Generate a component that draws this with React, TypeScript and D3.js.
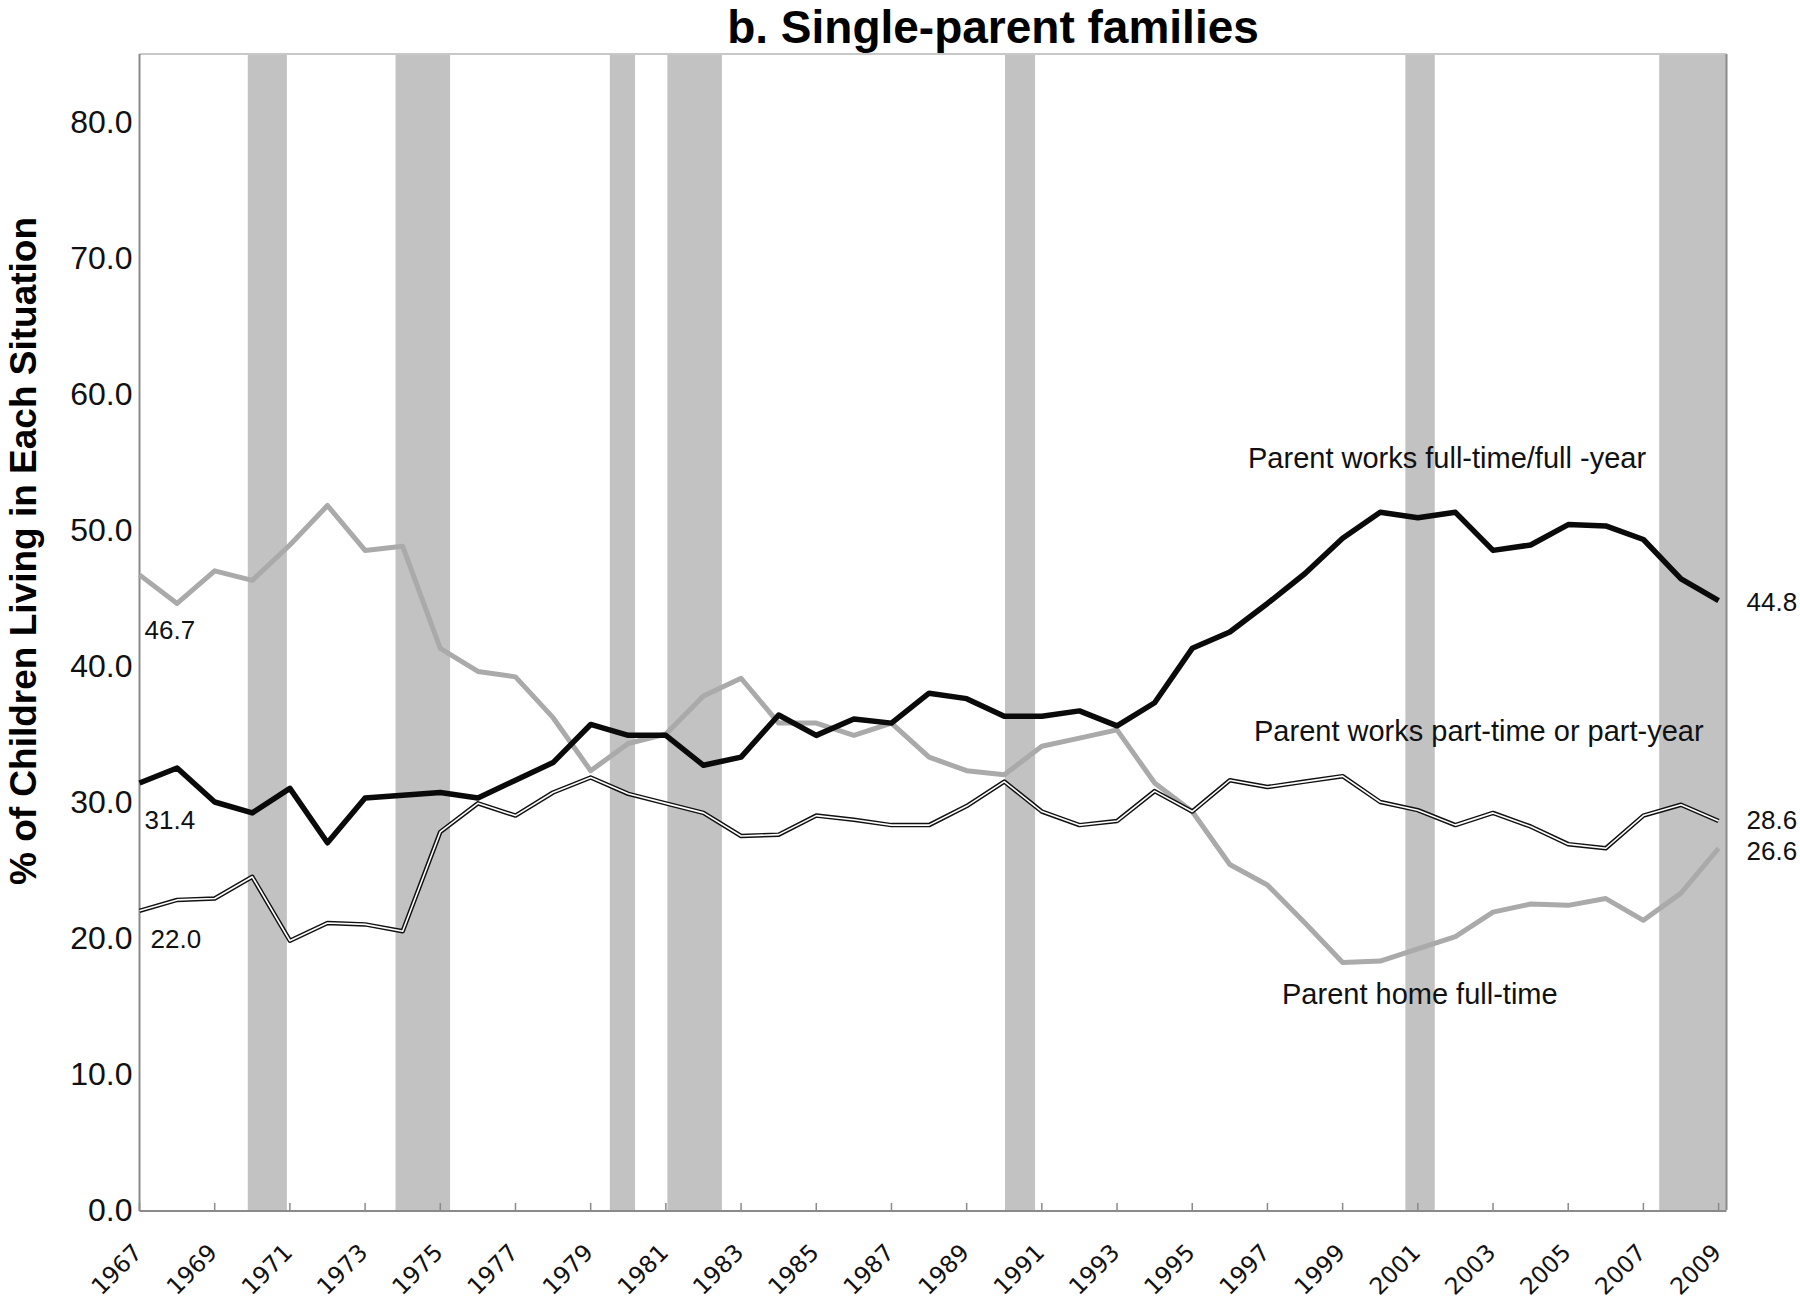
import React from 'react';
import * as d3 from 'd3';

const years = [
  1967, 1968, 1969, 1970, 1971, 1972, 1973, 1974, 1975, 1976, 1977, 1978, 1979, 1980, 1981,
  1982, 1983, 1984, 1985, 1986, 1987, 1988, 1989, 1990, 1991, 1992, 1993, 1994, 1995, 1996,
  1997, 1998, 1999, 2000, 2001, 2002, 2003, 2004, 2005, 2006, 2007, 2008, 2009,
];

const fullTime = [
  31.4, 32.5, 30.0, 29.2, 31.0, 27.0, 30.3, 30.5, 30.7, 30.3, 31.6, 32.9, 35.7, 34.9, 34.9,
  32.7, 33.3, 36.4, 34.9, 36.1, 35.8, 38.0, 37.6, 36.3, 36.3, 36.7, 35.6, 37.3, 41.3, 42.5,
  44.6, 46.8, 49.4, 51.3, 50.9, 51.3, 48.5, 48.9, 50.4, 50.3, 49.3, 46.4, 44.8,
];

const partTime = [
  22.0, 22.8, 22.9, 24.5, 19.8, 21.1, 21.0, 20.5, 27.8, 29.9, 29.0, 30.7, 31.8, 30.6, 29.9,
  29.2, 27.5, 27.6, 29.0, 28.7, 28.3, 28.3, 29.7, 31.5, 29.3, 28.3, 28.6, 30.8, 29.3, 31.6,
  31.1, 31.5, 31.9, 30.0, 29.4, 28.3, 29.2, 28.2, 26.9, 26.6, 29.0, 29.8, 28.6,
];

const homeFullTime = [
  46.7, 44.6, 47.0, 46.3, 48.9, 51.8, 48.5, 48.8, 41.3, 39.6, 39.2, 36.2, 32.3, 34.3, 35.0,
  37.8, 39.1, 35.8, 35.8, 34.9, 35.8, 33.3, 32.3, 32.0, 34.1, 34.7, 35.3, 31.4, 29.3, 25.4,
  23.9, 21.1, 18.2, 18.3, 19.2, 20.1, 21.9, 22.5, 22.4, 22.9, 21.3, 23.3, 26.6,
];

// recession bands (in year units)
const bandStart = [1969.88, 1973.81, 1979.51, 1981.04, 1990.02, 2000.67, 2007.42];
const bandEnd = [1970.92, 1975.26, 1980.18, 1982.49, 1990.82, 2001.45, 2009.21];

const yTicks = [0, 10, 20, 30, 40, 50, 60, 70, 80];
const xTicks = [
  1967, 1969, 1971, 1973, 1975, 1977, 1979, 1981, 1983, 1985, 1987, 1989, 1991, 1993, 1995,
  1997, 1999, 2001, 2003, 2005, 2007, 2009,
];

const title = 'b. Single-parent families';
const yTitle = '% of Children Living in Each Situation';
const seriesLabels = [
  'Parent works full-time/full -year',
  'Parent works part-time or part-year',
  'Parent home full-time',
];

const W = 1800;
const H = 1302;
const L = 139.5;
const R = 1726.5;
const T = 54;
const B = 1210;

export default function App() {
  const x = d3.scaleLinear().domain([1967, 2009.21]).range([L, R]);
  const y = d3.scaleLinear().domain([0, 85]).range([B, T]);

  const line = d3
    .line<number>()
    .x((_, i) => x(years[i]))
    .y((d) => y(d));

  const sans = 'Liberation Sans, Arial, Helvetica, sans-serif';
  const last = years.length - 1;

  return (
    <svg
      width={W}
      height={H}
      style={{ position: 'absolute', left: 0, top: 0, background: '#fff' }}
      fontFamily={sans}
    >
      <rect x={0} y={0} width={W} height={H} fill="#fff" />
      {/* recession bands */}
      {bandStart.map((s, i) => (
        <rect
          key={i}
          x={x(s)}
          y={y(85)}
          width={x(bandEnd[i]) - x(s)}
          height={y(0) - y(85)}
          fill="#c2c2c2"
        />
      ))}
      {/* frame */}
      <line x1={L} x2={R} y1={T} y2={T} stroke="#c8c8c8" strokeWidth={2} />
      <line x1={R} x2={R} y1={T} y2={B} stroke="#8a8a8a" strokeWidth={2} />
      <line x1={L} x2={L} y1={T} y2={B + 1} stroke="#8a8a8a" strokeWidth={2} />
      <line x1={L} x2={R} y1={B + 1} y2={B + 1} stroke="#8a8a8a" strokeWidth={2} />
      {xTicks.map((t) => (
        <line key={t} x1={x(t)} x2={x(t)} y1={B + 1} y2={B - 7} stroke="#8a8a8a" strokeWidth={1.5} />
      ))}
      {/* y tick labels */}
      {yTicks.map((t) => (
        <text key={t} x={L - 7} y={y(t) + 11} textAnchor="end" fontSize={32} fill="#111">
          {d3.format('.1f')(t)}
        </text>
      ))}
      {/* x tick labels */}
      {xTicks.map((t) => (
        <text
          key={t}
          transform={`translate(${x(t) + 4},${B + 44}) rotate(-45)`}
          textAnchor="end"
          fontSize={23.5}
          fontFamily="DejaVu Sans, Verdana, sans-serif"
          fill="#111"
        >
          {t}
        </text>
      ))}
      {/* series */}
      <path d={line(homeFullTime) || ''} fill="none" stroke="#aaaaaa" strokeWidth={5} strokeLinejoin="round" />
      <path d={line(partTime) || ''} fill="none" stroke="#111" strokeWidth={4.5} strokeLinejoin="round" />
      <path d={line(partTime) || ''} fill="none" stroke="#fff" strokeWidth={1.6} strokeLinejoin="round" />
      <path d={line(fullTime) || ''} fill="none" stroke="#0a0a0a" strokeWidth={5.5} strokeLinejoin="round" />
      {/* start value labels */}
      <text x={x(years[0]) + 5} y={y(homeFullTime[0]) + 64} fontSize={26} fill="#111">
        {homeFullTime[0].toFixed(1)}
      </text>
      <text x={x(years[0]) + 5} y={y(fullTime[0]) + 46} fontSize={26} fill="#111">
        {fullTime[0].toFixed(1)}
      </text>
      <text x={x(years[0]) + 11} y={y(partTime[0]) + 37} fontSize={26} fill="#111">
        {partTime[0].toFixed(1)}
      </text>
      {/* end value labels */}
      <text x={x(years[last]) + 28} y={y(fullTime[last]) + 10} fontSize={26} fill="#111">
        {fullTime[last].toFixed(1)}
      </text>
      <text x={x(years[last]) + 28} y={y(partTime[last]) + 8} fontSize={26} fill="#111">
        {partTime[last].toFixed(1)}
      </text>
      <text x={x(years[last]) + 28} y={y(homeFullTime[last]) + 12} fontSize={26} fill="#111">
        {homeFullTime[last].toFixed(1)}
      </text>
      {/* series labels */}
      <text x={1248} y={468} fontSize={29} fill="#111">{seriesLabels[0]}</text>
      <text x={1254} y={741} fontSize={29} fill="#111">{seriesLabels[1]}</text>
      <text x={1282} y={1004} fontSize={29} fill="#111">{seriesLabels[2]}</text>
      {/* titles */}
      <text x={993} y={43} textAnchor="middle" fontSize={46} fontWeight="bold" fill="#000">
        {title}
      </text>
      <text
        transform={`translate(36,551) rotate(-90)`}
        textAnchor="middle"
        fontSize={37}
        fontWeight="bold"
        fill="#000"
      >
        {yTitle}
      </text>
    </svg>
  );
}
